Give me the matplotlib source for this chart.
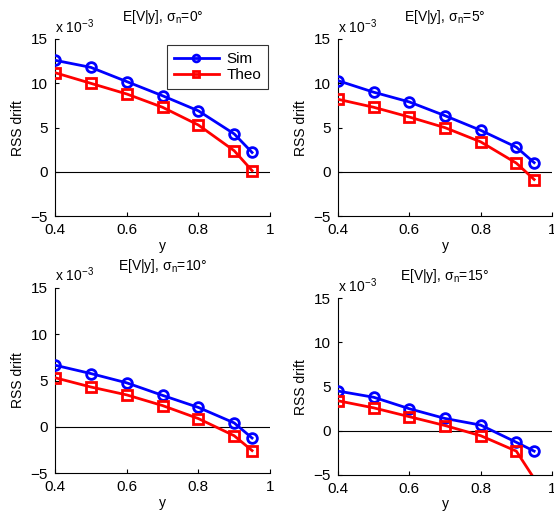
import matplotlib
matplotlib.use("Agg")
import matplotlib.pyplot as plt

plt.rcParams['font.family'] = ['Liberation Sans', 'DejaVu Sans']
plt.rcParams['mathtext.fontset'] = 'custom'
plt.rcParams['mathtext.rm'] = 'Liberation Sans'
plt.rcParams['mathtext.it'] = 'Liberation Sans'

y_vals = [0.4, 0.5, 0.6, 0.7, 0.8, 0.9, 0.95]
sigmas = ['0', '5', '10', '15']
# values in units of 1e-3
sim = [
    [12.6, 11.8, 10.2, 8.6, 6.9, 4.3, 2.2],
    [10.3, 9.0, 7.9, 6.35, 4.7, 2.8, 1.05],
    [6.65, 5.75, 4.75, 3.4, 2.1, 0.43, -1.2],
    [4.5, 3.8, 2.5, 1.4, 0.65, -1.3, -2.3],
]
theo = [
    [11.2, 10.0, 8.8, 7.3, 5.3, 2.4, 0.15],
    [8.2, 7.3, 6.2, 5.0, 3.4, 1.0, -0.85],
    [5.3, 4.3, 3.45, 2.3, 0.9, -0.95, -2.55],
    [3.4, 2.6, 1.6, 0.6, -0.55, -2.3, -5.4],
]
xticks = [0.4, 0.6, 0.8, 1.0]
xticklabels = ['0.4', '0.6', '0.8', '1']
yticks = [-5, 0, 5, 10, 15]
yticklabels = ['\u22125', '0', '5', '10', '15']
ylim = (-5, 15)

W, H = 554, 513
fig = plt.figure(figsize=(W / 100, H / 100), dpi=100)

# axes boxes in pixels: left, right, top, bottom
boxes = [
    (55, 270, 39, 216.3),
    (338, 552, 39, 216.3),
    (55, 270, 287.7, 473.3),
    (338, 552, 298.3, 475),
]


def visible(vals):
    return [k for k, v in enumerate(vals) if ylim[0] <= v <= ylim[1]]


for i, (l, r, t, b) in enumerate(boxes):
    ax = fig.add_axes([l / W, 1 - b / H, (r - l) / W, (b - t) / H])
    ax.axhline(0, color='black', lw=0.8, zorder=1)
    ax.plot(y_vals, sim[i], color=(0, 0, 1), lw=2, marker='o', ms=7,
            mfc='none', mew=2, label='Sim', zorder=3,
            markevery=visible(sim[i]))
    ax.plot(y_vals, theo[i], color=(1, 0, 0), lw=2, marker='s', ms=6.5,
            mfc='none', mew=2, label='Theo', zorder=3,
            markevery=visible(theo[i]))
    ax.set_xlim(0.4, 1.0)
    ax.set_ylim(*ylim)
    ax.set_xticks(xticks)
    ax.set_xticklabels(xticklabels)
    ax.set_yticks(yticks)
    ax.set_yticklabels(yticklabels)
    for s in ['top', 'right']:
        ax.spines[s].set_visible(False)
    for s in ['left', 'bottom']:
        ax.spines[s].set_linewidth(0.8)
    ax.tick_params(direction='in', length=3, width=0.8, labelsize=11, pad=5)
    ax.set_xlabel('y', fontsize=10, labelpad=1)
    ax.set_ylabel('RSS drift', fontsize=10, labelpad=4)
    ax.set_title('E[V|y], σ$_{\\mathrm{n}}$=' + sigmas[i] + '°', fontsize=10, pad=13)
    ax.text(0.0, 1.035, 'x 10$^{\\mathrm{-3}}$', transform=ax.transAxes,
            fontsize=10, ha='left', va='baseline')
    if i == 0:
        leg = ax.legend(loc='upper right', bbox_to_anchor=(0.99, 0.966),
                        fontsize=11, handlelength=3.0, labelspacing=0.15,
                        markerscale=0.7, fancybox=False, borderpad=0.45,
                        handletextpad=0.45, borderaxespad=0.0)
        leg.get_frame().set_edgecolor('black')
        leg.get_frame().set_linewidth(0.8)

fig.savefig('out.png', dpi=100)
